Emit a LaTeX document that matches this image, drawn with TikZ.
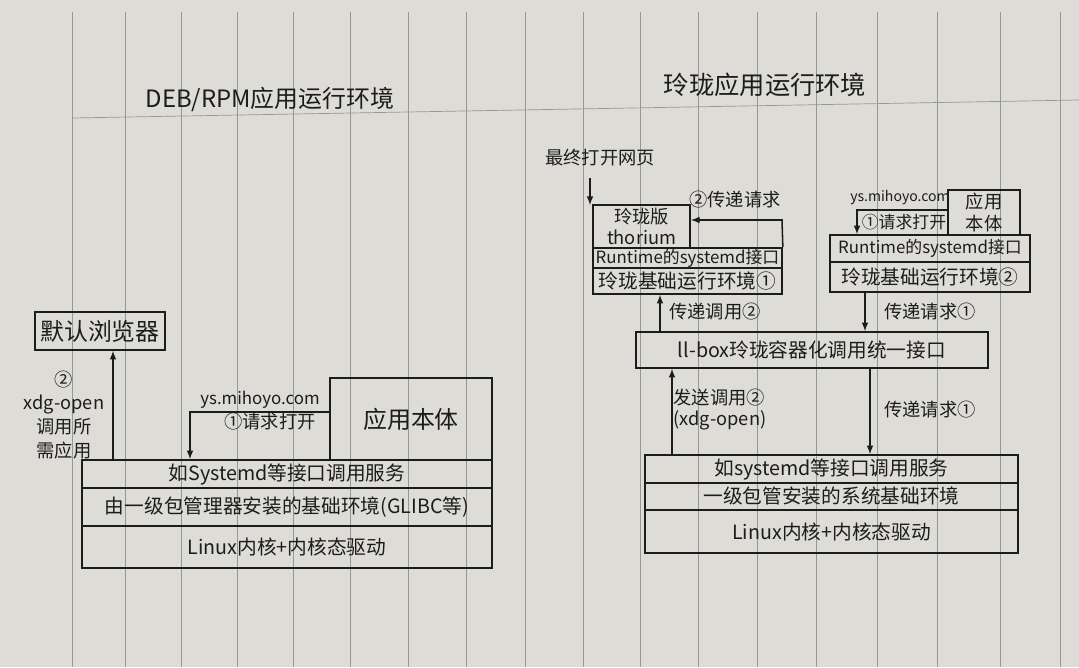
\documentclass[tikz,border=0pt]{standalone}
\usepackage{fontspec}
\setmainfont{Noto Sans CJK SC}
\usetikzlibrary{calc}
\definecolor{paper}{RGB}{222,220,215}
\definecolor{ink}{RGB}{28,28,28}
\definecolor{ruling}{RGB}{150,150,148}

\tikzset{
	layer/.style={draw=ink, line width=1.2pt, inner sep=0pt, align=center, text=ink, font=\fontsize{14}{16}\selectfont},
	note/.style={text=ink, align=center, inner sep=1pt, font=\fontsize{13}{15}\selectfont},
	call/.style={-latex, draw=ink, line width=1.1pt},
	rule/.style={draw=ruling, line width=0.5pt}
}

\begin{document}
\begin{tikzpicture}
	\useasboundingbox (0,0) rectangle (26.975,-16.675);
	\fill [paper] (0,0) rectangle (26.975,-16.675);
	% ruled paper
	\foreach \x in {1.8,3.125,4.525,5.925,7.325,8.75,10.2,11.65,13.125,14.575,16.0,17.45,18.925,20.4,21.925,23.425,25.0,26.5}
		\draw [rule] (\x,-0.3) -- (\x,-16.675);
	\draw [rule] (1.8,-2.95) -- (26.975,-2.5);

	% DEB/RPM
	\node [note, font=\fontsize{17}{19}\selectfont] (titleL) at (6.75,-2.5) {DEB/RPM应用运行环境};
	\node [layer, minimum width=3.25cm, minimum height=0.95cm, font=\fontsize{17}{19}\selectfont] (browser) at (2.5,-8.275) {默认浏览器};
	\node [layer, minimum width=4.05cm, minimum height=2.05cm, font=\fontsize{17}{19}\selectfont] (appL) at (10.275,-10.475) {应用本体};
	\node [layer, minimum width=10.25cm, minimum height=0.7cm] (svcL) at (7.175,-11.85) {如Systemd等接口调用服务};
	\node [layer, minimum width=10.25cm, minimum height=0.95cm] (baseL) at (7.175,-12.675) {由一级包管理器安装的基础环境(GLIBC等)};
	\node [layer, minimum width=10.25cm, minimum height=1.05cm] (kernL) at (7.175,-13.675) {Linux内核+内核态驱动};

	\node [note, font=\fontsize{12}{14}\selectfont] (urlL) at (6.5,-10.0) {ys.mihoyo.com};
	\node [note] (reqL) at (6.75,-10.55) {①请求打开};
	\coordinate (turnL) at (4.75,-10.3);
	\draw [call] (appL.west |- turnL) -- (turnL) -- (turnL |- svcL.north);

	\coordinate (xdgL) at (2.825,-11.5);
	\draw [call] (xdgL |- svcL.north) -- (xdgL |- browser.south);
	\node [note, font=\fontsize{13}{17}\selectfont] (xdgtxt) at (1.6,-10.375) {②\\xdg-open\\调用所\\需应用};

	% Linglong
	\node [note, font=\fontsize{18}{20}\selectfont] (titleR) at (19.125,-2.125) {玲珑应用运行环境};
	\node [note] (webpage) at (15.0,-3.95) {最终打开网页};
	\draw [call] (14.75,-4.45) -- (14.75,-5.125);

	\node [layer, minimum width=2.425cm, minimum height=1.075cm, font=\fontsize{13}{15}\selectfont] (thor) at (16.04,-5.66) {玲珑版\\thorium};
	\node [layer, minimum width=4.725cm, minimum height=0.5cm, font=\fontsize{12}{14}\selectfont] (rtA) at (17.1875,-6.45) {Runtime的systemd接口};
	\node [layer, minimum width=4.725cm, minimum height=0.65cm] (baseA) at (17.1875,-7.025) {玲珑基础运行环境①};
	\coordinate (turnA) at (19.55,-5.5);
	\draw [call] (rtA.north east) -- (turnA) -- (turnA -| thor.east);
	\node [note] (passA) at (18.375,-5.0) {②传递请求};

	\node [layer, minimum width=1.8cm, minimum height=1.125cm, font=\fontsize{13}{15}\selectfont] (appB) at (24.6,-5.3125) {应用\\本体};
	\node [layer, minimum width=5.0cm, minimum height=0.675cm, font=\fontsize{12}{14}\selectfont] (rtB) at (23.25,-6.2125) {Runtime的systemd接口};
	\node [layer, minimum width=5.0cm, minimum height=0.75cm] (baseB) at (23.25,-6.925) {玲珑基础运行环境②};
	\node [note, font=\fontsize{10}{12}\selectfont] (urlB) at (22.5,-4.95) {ys.mihoyo.com};
	\node [note, font=\fontsize{12}{14}\selectfont] (reqB) at (22.6,-5.55) {①请求打开};
	\coordinate (turnB) at (21.425,-5.25);
	\draw [call] (appB.west |- turnB) -- (turnB) -- (turnB |- rtB.north);

	\node [layer, minimum width=8.8cm, minimum height=0.9cm] (llbox) at (20.3,-8.75) {ll-box玲珑容器化调用统一接口};
	\draw [call] (16.5,0 |- llbox.north) -- (16.5,0 |- baseA.south);
	\node [note] (upA) at (17.875,-7.8) {传递调用②};
	\draw [call] (21.625,0 |- baseB.south) -- (21.625,0 |- llbox.north);
	\node [note] (downB) at (23.25,-7.8) {传递请求①};

	\node [layer, minimum width=9.325cm, minimum height=0.7cm] (svcR) at (20.7875,-11.725) {如systemd等接口调用服务};
	\node [layer, minimum width=9.325cm, minimum height=0.675cm] (baseR) at (20.7875,-12.4125) {一级包管安装的系统基础环境};
	\node [layer, minimum width=9.325cm, minimum height=1.075cm] (kernR) at (20.7875,-13.2875) {Linux内核+内核态驱动};

	\draw [call] (16.8,0 |- svcR.north) -- (16.8,0 |- llbox.south);
	\node [note, align=left] (sendR) at (18.0,-10.25) {发送调用②\\(xdg-open)};
	\draw [call] (21.75,0 |- llbox.south) -- (21.75,0 |- svcR.north);
	\node [note] (passR) at (23.25,-10.25) {传递请求①};
\end{tikzpicture}
\end{document}
